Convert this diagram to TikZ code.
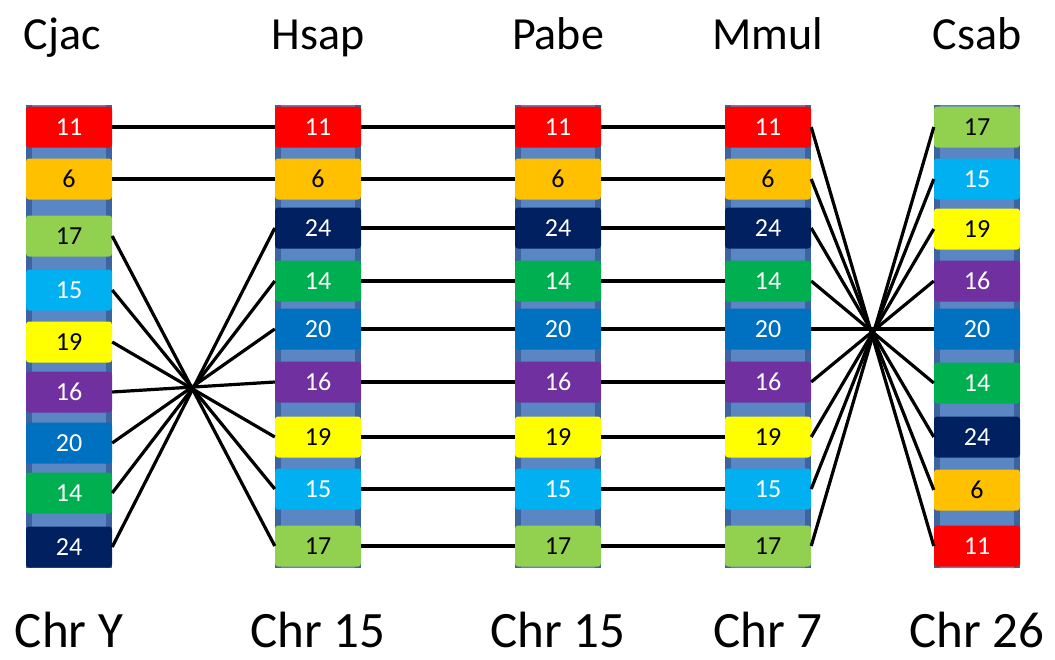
\documentclass[tikz,border=0pt]{standalone}
\usepackage{fontspec}
\setmainfont{Carlito}
\definecolor{bandblue}{HTML}{5A86C4}
\definecolor{banddark}{HTML}{3C64A0}
\definecolor{chrred}{HTML}{FF0000}
\definecolor{chrorange}{HTML}{FFC000}
\definecolor{chrlime}{HTML}{92D050}
\definecolor{chrsky}{HTML}{00B0F0}
\definecolor{chryellow}{HTML}{FFFF00}
\definecolor{chrpurple}{HTML}{7030A0}
\definecolor{chrblue}{HTML}{0070C0}
\definecolor{chrgreen}{HTML}{00B050}
\definecolor{chrnavy}{HTML}{002060}
\tikzset{
  block/.style = {rectangle, rounded corners = 3pt, inner sep = 0pt,
    minimum width = 86pt, minimum height = 41pt, font = \fontsize{26}{26}\selectfont},
  seg11/.style = {fill = chrred, text = white},
  seg6/.style = {fill = chrorange, text = black},
  seg17/.style = {fill = chrlime, text = black},
  seg15/.style = {fill = chrsky, text = white},
  seg19/.style = {fill = chryellow, text = black},
  seg16/.style = {fill = chrpurple, text = white},
  seg20/.style = {fill = chrblue, text = white},
  seg14/.style = {fill = chrgreen, text = white},
  seg24/.style = {fill = chrnavy, text = white},
  link/.style = {line width = 3.2pt},
  species/.style = {anchor = base, font = \fontsize{46}{46}\selectfont},
  chrname/.style = {anchor = base, font = \fontsize{51}{51}\selectfont}
}
\begin{document}
\begin{tikzpicture}[x = 1pt, y = -1pt]
  \useasboundingbox (0, 0) rectangle (1055, 659);
  \def\midorder{11/127, 6/179, 24/228, 14/281, 20/329, 16/382, 19/437, 15/489, 17/546}
  \foreach \sp/\cx/\chr in {cjac/69/Chr Y, hsap/318/Chr 15, pabe/558/Chr 15, mmul/768/Chr 7, csab/977/Chr 26}{
    \fill[banddark] ({\cx - 43}, 105) rectangle ({\cx + 43}, 568);
    \fill[bandblue] ({\cx - 37}, 105) rectangle ({\cx + 37}, 568);
    \node[chrname] (\sp chr) at (\cx, 647) {\chr};
  }
  \node[species] (cjactitle) at (62, 49) {Cjac};
  \node[species] (hsaptitle) at (318, 49) {Hsap};
  \node[species] (pabetitle) at (558, 49) {Pabe};
  \node[species] (mmultitle) at (768, 49) {Mmul};
  \node[species] (csabtitle) at (977, 49) {Csab};
  \foreach \n/\y in {11/127, 6/179, 17/236, 15/290, 19/342, 16/392, 20/443, 14/493, 24/547}
    \node[block, seg\n] (cjac\n) at (69, \y) {\n};
  \foreach \sp/\cx in {hsap/318, pabe/558, mmul/768}
    \foreach \n/\y in \midorder
      \node[block, seg\n] (\sp\n) at (\cx, \y) {\n};
  \foreach \n/\y in {17/127, 15/179, 19/229, 16/281, 20/329, 14/383, 24/437, 6/490, 11/546}
    \node[block, seg\n] (csab\n) at (977, \y) {\n};
  \foreach \n in {11, 6, 24, 14, 20, 16, 19, 15, 17}{
    \draw[link] (cjac\n.east) -- (hsap\n.west);
    \draw[link] (hsap\n.east) -- (pabe\n.west);
    \draw[link] (pabe\n.east) -- (mmul\n.west);
    \draw[link] (mmul\n.east) -- (csab\n.west);
  }
\end{tikzpicture}
\end{document}
